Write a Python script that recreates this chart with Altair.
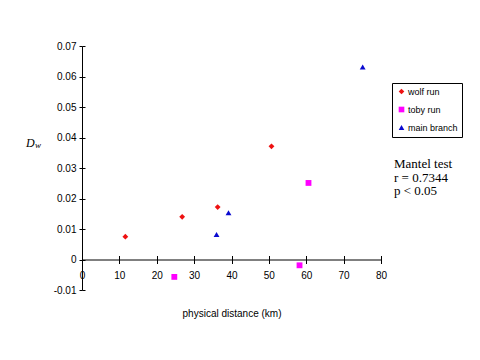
import altair as alt
import pandas as pd

# data
wolf_x = [11.6, 26.8, 36.3, 50.7]
wolf_y = [0.0075, 0.0140, 0.0172, 0.0371]
toby_x = [24.7, 58.2, 60.6]
toby_y = [-0.0057, -0.0019, 0.0251]
main_x = [36.0, 39.2, 75.1]
main_y = [0.0082, 0.0153, 0.0631]

sites = ["wolf run", "toby run", "main branch"]
colors = ["#ee1111", "#ff00ff", "#0a0ad0"]
shapes = ["diamond", "square", "triangle-up"]

x_ticks = [0, 10, 20, 30, 40, 50, 60, 70, 80]
y_ticks = [-0.01, 0.0, 0.01, 0.02, 0.03, 0.04, 0.05, 0.06, 0.07]

annotation = "Mantel test\nr = 0.7344\np < 0.05"

df = pd.DataFrame({
    "dist": wolf_x + toby_x + main_x,
    "dw": wolf_y + toby_y + main_y,
    "site": [sites[0]] * len(wolf_x) + [sites[1]] * len(toby_x) + [sites[2]] * len(main_x),
})

W, H = 299, 244
SANS = "Liberation Sans"
SERIF = "Liberation Serif"

xscale = alt.Scale(domain=[0, 80], nice=False, zero=False)
yscale = alt.Scale(domain=[-0.01, 0.07], nice=False, zero=False)
y_zero_px = H * (0.07 - 0.0) / 0.08  # pixel of y=0 from top

legend = alt.Legend(
    title=None, orient="none", legendX=310, legendY=37,
    strokeColor="black", fillColor="white", padding=4,
    labelFont=SANS, labelFontSize=9, labelColor="black",
    symbolSize=32, symbolStrokeWidth=0, rowPadding=8,
    labelOffset=2, symbolOffset=1,
)

points = alt.Chart(df).mark_point(filled=True, size=34, opacity=1).encode(
    x=alt.X("dist:Q", scale=xscale, axis=alt.Axis(
        values=x_ticks, offset=-(H - y_zero_px), tickSize=4, labelPadding=7,
        domainColor="black", tickColor="black", grid=False, labelFlush=False,
        labelOverlap=False, labelFont=SANS, labelFontSize=10, labelColor="black",
        title="physical distance (km)", titleFont=SANS, titleFontSize=10,
        titleFontWeight="normal", titleColor="black", titlePadding=28,
    )),
    y=alt.Y("dw:Q", scale=yscale, axis=alt.Axis(
        values=y_ticks, tickSize=3, labelPadding=3, domainColor="black",
        tickColor="black", grid=False, labelFont=SANS, labelFontSize=10,
        labelColor="black", title=None, labelFlush=False, labelOverlap=False,
        labelExpr="datum.value == 0 ? '0' : (datum.value < 0 ? '-' : '') + format(abs(datum.value), '.2f')",
    )),
    color=alt.Color("site:N", scale=alt.Scale(domain=sites, range=colors), legend=legend),
    shape=alt.Shape("site:N", scale=alt.Scale(domain=sites, range=shapes), legend=legend),
)

# second set of ticks so the ticks cross the axis lines
ticks = alt.Chart(df).mark_point(opacity=0).encode(
    x=alt.X("dist:Q", scale=xscale, axis=alt.Axis(
        orient="top", offset=-y_zero_px, values=x_ticks, tickSize=4, labels=False,
        domain=False, grid=False, tickColor="black", title=None)),
    y=alt.Y("dw:Q", scale=yscale, axis=alt.Axis(
        orient="right", offset=-W, values=y_ticks, tickSize=3, labels=False,
        domain=False, grid=False, tickColor="black", title=None)),
)

note = alt.Chart(pd.DataFrame({"t": [annotation]})).mark_text(
    align="left", baseline="top", font=SERIF, fontSize=13, lineHeight=13.5,
    lineBreak="\n", color="black",
).encode(text="t:N", x=alt.value(312), y=alt.value(112))

dlabel = alt.Chart(pd.DataFrame({"t": ["D"]})).mark_text(
    align="left", baseline="alphabetic", font=SERIF, fontSize=12,
    fontStyle="italic", color="black",
).encode(text="t:N", x=alt.value(-56), y=alt.value(101))

wlabel = alt.Chart(pd.DataFrame({"t": ["w"]})).mark_text(
    align="left", baseline="alphabetic", font=SERIF, fontSize=9,
    fontStyle="italic", color="black",
).encode(text="t:N", x=alt.value(-47), y=alt.value(102))

chart = alt.layer(points, ticks, note, dlabel, wlabel).resolve_axis(
    x="independent", y="independent"
).properties(
    width=W, height=H,
    autosize=alt.AutoSizeParams(type="none"),
    padding={"left": 74, "top": 38, "right": 91, "bottom": 62},
).configure(
    background="white",
    view=alt.ViewConfig(strokeWidth=0, stroke="transparent"),
)

chart.save("out.html", embed_options={"renderer": "svg", "actions": False})
